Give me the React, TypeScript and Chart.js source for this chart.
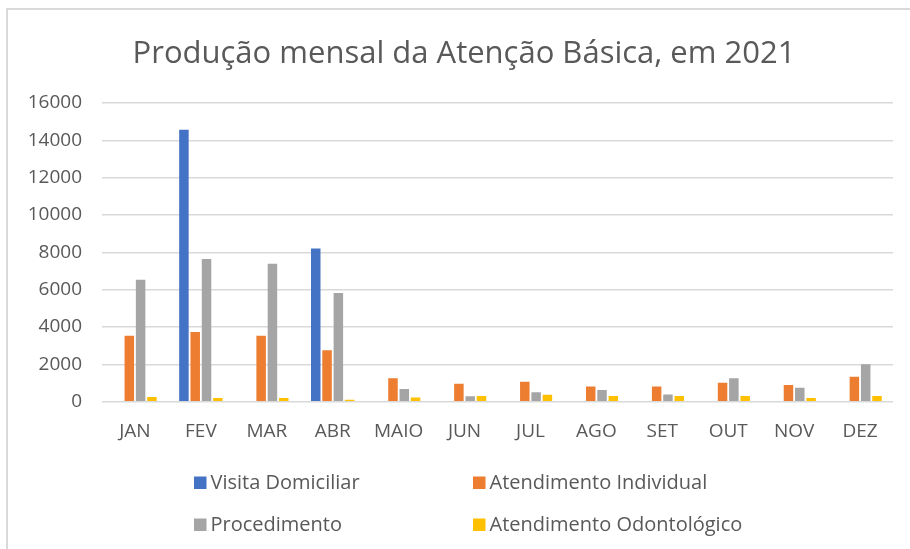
import React, { useEffect, useRef } from "react";
import { Chart, registerables } from "chart.js";

Chart.register(...registerables);

const TITLE = "Produção mensal da Atenção Básica, em 2021";
const months = ["JAN", "FEV", "MAR", "ABR", "MAIO", "JUN", "JUL", "AGO", "SET", "OUT", "NOV", "DEZ"];
const visitaDomiciliar = [0, 14570, 0, 8210, 0, 0, 0, 0, 0, 0, 0, 0];
const atendimentoIndividual = [3530, 3730, 3530, 2750, 1250, 960, 1070, 820, 820, 1020, 890, 1340];
const procedimento = [6530, 7640, 7390, 5820, 680, 290, 500, 630, 380, 1250, 750, 2000];
const atendimentoOdontologico = [250, 200, 200, 110, 230, 300, 370, 300, 300, 300, 200, 300];
const yTicks = [0, 2000, 4000, 6000, 8000, 10000, 12000, 14000, 16000];

const FONT = "'Open Sans', 'Noto Sans', sans-serif";
const TEXT = "#595959";
const GRID = "#d9d9d9";

const framePlugin = {
  id: "frame",
  beforeDraw(chart: any) {
    const ctx = chart.ctx;
    ctx.save();
    ctx.fillStyle = "#ffffff";
    ctx.fillRect(0, 0, chart.width, chart.height);
    ctx.fillStyle = GRID;
    ctx.fillRect(6, 8, chart.width - 6, 2);
    ctx.fillRect(6, 8, 2, chart.height - 8);
    ctx.restore();
  },
  afterDraw(chart: any) {
    const ctx = chart.ctx;
    ctx.save();
    // title
    ctx.fillStyle = TEXT;
    ctx.font = `31px ${FONT}`;
    ctx.textAlign = "center";
    ctx.textBaseline = "alphabetic";
    ctx.fillText(TITLE, 464, 63);
    // legend, two columns
    const cols = [194, 473];
    const rows = [489, 531];
    ctx.font = `20px ${FONT}`;
    ctx.textAlign = "left";
    chart.data.datasets.forEach((ds: any, i: number) => {
      const x = cols[i % 2];
      const y = rows[Math.floor(i / 2)];
      ctx.fillStyle = ds.backgroundColor;
      ctx.fillRect(x, y - 12.5, 12.5, 12.5);
      ctx.fillStyle = TEXT;
      ctx.fillText(ds.label, x + 16.5, y);
    });
    ctx.restore();
  },
};

export default function App() {
  const ref = useRef<HTMLCanvasElement>(null);
  useEffect(() => {
    if (!ref.current) return;
    const mk = (label: string, data: number[], color: string) => ({
      label,
      data,
      backgroundColor: color,
      borderWidth: 0,
      categoryPercentage: 0.686,
      barPercentage: 0.84,
    });
    const chart = new Chart(ref.current, {
      type: "bar",
      data: {
        labels: months,
        datasets: [
          mk("Visita Domiciliar", visitaDomiciliar, "#4472C4"),
          mk("Atendimento Individual", atendimentoIndividual, "#ED7D31"),
          mk("Procedimento", procedimento, "#A5A5A5"),
          mk("Atendimento Odontológico", atendimentoOdontologico, "#FFC000"),
        ],
      },
      options: {
        responsive: false,
        animation: false,
        devicePixelRatio: 1,
        layout: { padding: { top: 103, left: 0, right: 17, bottom: 107.3 } },
        plugins: {
          legend: { display: false },
          title: { display: false },
          tooltip: { enabled: false },
        },
        scales: {
          x: {
            grid: { display: false, drawTicks: false },
            border: { display: false },
            ticks: { color: TEXT, font: { family: FONT, size: 19 }, padding: 18 },
            afterFit(axis: any) {
              axis.height = 40;
            },
          },
          y: {
            min: 0,
            max: 16000,
            afterBuildTicks(axis: any) {
              axis.ticks = yTicks.map((v) => ({ value: v }));
            },
            grid: { color: GRID, lineWidth: 1.5, drawTicks: false },
            border: { display: false },
            ticks: {
              color: TEXT,
              font: { family: FONT, size: 19 },
              padding: 20,
              callback: (v: any) => String(v),
            },
            afterFit(axis: any) {
              axis.width = 102;
            },
          },
        },
      },
      plugins: [framePlugin],
    } as any);
    return () => chart.destroy();
  }, []);
  return (
    <canvas
      ref={ref}
      width={910}
      height={549}
      style={{ position: "fixed", left: 0, top: 0, width: 910, height: 549 }}
    />
  );
}
